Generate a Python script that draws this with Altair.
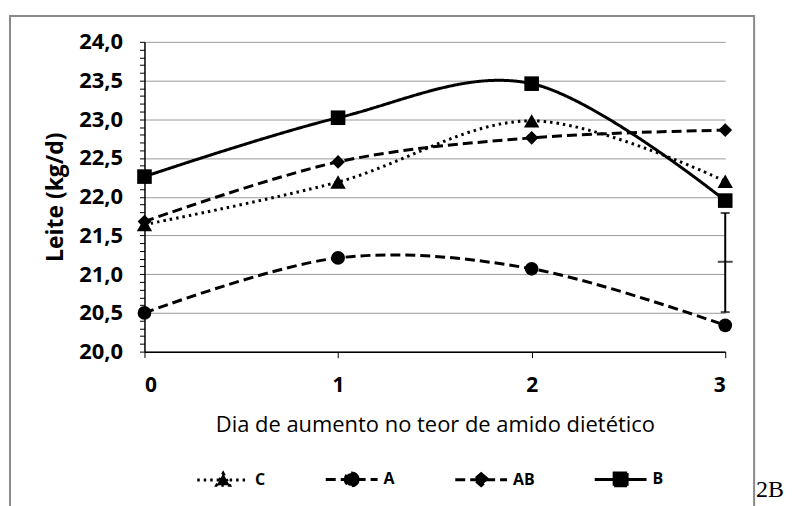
import altair as alt
import pandas as pd

# ---- data ----
days = [0, 1, 2, 3]
series_names = ["C", "A", "AB", "B"]
leite_C = [21.64, 22.19, 22.98, 22.20]
leite_A = [20.50, 21.21, 21.07, 20.34]
leite_AB = [21.68, 22.45, 22.76, 22.86]
leite_B = [22.26, 23.02, 23.46, 21.95]

# error bar drawn at the last day
err_day = [3]
err_center = [21.16]
err_low = [20.51]
err_high = [21.79]

y_minor_step = 0.1
y_ticks = [round(20.0 + y_minor_step * i, 1) for i in range(41)]

x_title = "Dia de aumento no teor de amido dietético"
y_title = "Leite (kg/d)"

marker_shapes = {"C": "triangle-up", "A": "circle", "AB": "diamond", "B": "square"}
marker_sizes = {"C": 240, "A": 190, "AB": 190, "B": 215}

# ---- tables ----
rows = []
for name, vals in zip(series_names, [leite_C, leite_A, leite_AB, leite_B]):
    for d, v in zip(days, vals):
        rows.append({"dia": d, "leite": v, "serie": name})
df = pd.DataFrame(rows)
err_df = pd.DataFrame({"dia": err_day, "mid": err_center, "lo": err_low, "hi": err_high})
one = pd.DataFrame({"k": [0]})

FONT = "Open Sans"
major_test = "abs(datum.value*2 - round(datum.value*2)) < 0.001"

x_scale = alt.Scale(domain=[0, 3], nice=False, zero=False)
y_scale = alt.Scale(domain=[20, 24], nice=False, zero=False)

x_axis = alt.Axis(
    values=days, title=x_title, grid=False, format="d",
    tickSize=6, tickColor="black", domainColor="black", domainWidth=1.5,
    labelFont=FONT, labelFontSize=21, labelFontWeight="bold", labelColor="black",
    labelPadding=17, titleFont=FONT, titleFontSize=22, titleFontWeight="normal",
    titleColor="black", titlePadding=19,
)
y_axis = alt.Axis(
    values=y_ticks, tickCount=len(y_ticks), title=y_title,
    labelExpr=f"{major_test} ? replace(format(datum.value, '.1f'), '.', ',') : ''",
    grid=True, gridColor="#9a9a9a", gridWidth=1,
    gridOpacity={"condition": {"test": major_test, "value": 1}, "value": 0},
    tickSize=5, tickColor="black", domainColor="black", domainWidth=1.5,
    labelFont=FONT, labelFontSize=22, labelFontWeight="bold", labelColor="black",
    labelPadding=17, labelOverlap=False, labelFlush=False, labelBound=False,
    titleFont=FONT, titleFontSize=23, titleFontWeight="bold", titleColor="black",
    titlePadding=11,
)

# legend symbols: a line segment with the series marker in its middle
sym_C = "M-1,0H9.4M4.2,-1.3L5.5,1.1L2.9,1.1Z"
sym_A = "M-1,0H9.4M5.5,0A1.3,1.3,0,1,1,2.9,0A1.3,1.3,0,1,1,5.5,0Z"
sym_AB = "M-1,0H9.4M4.2,-1.2L5.6,0L4.2,1.2L2.8,0Z"
sym_B = "M-1,0H9.4M2.9,-1.3H5.5V1.3H2.9Z"
sym_expr = (
    f"datum.value == 'C' ? '{sym_C}' : datum.value == 'A' ? '{sym_A}' : "
    f"datum.value == 'AB' ? '{sym_AB}' : '{sym_B}'"
)

legend = alt.Legend(
    title=None, orient="none", legendX=50, legendY=431, direction="horizontal",
    columns=4, symbolType={"expr": sym_expr}, symbolSize=100,
    symbolStrokeWidth=3, symbolStrokeColor="black", symbolFillColor="black",
    symbolOpacity=1, labelFont=FONT, labelFontSize=16, labelFontWeight="bold",
    labelColor="black", labelOffset=45, columnPadding=54,
)

base = alt.Chart(df)
X = alt.X("dia:Q", scale=x_scale, axis=x_axis)
Y = alt.Y("leite:Q", scale=y_scale, axis=y_axis)

lines = base.mark_line(interpolate="cardinal", color="black", strokeWidth=3).encode(
    x=X, y=Y,
    strokeDash=alt.StrokeDash(
        "serie:N",
        scale=alt.Scale(domain=series_names, range=[[2.5, 4], [10, 5], [10, 5], [1, 0]]),
        legend=legend,
    ),
)

point_layers = []
for name in series_names:
    point_layers.append(
        base.transform_filter(alt.datum.serie == name)
        .mark_point(filled=True, color="black", opacity=1,
                    shape=marker_shapes[name], size=marker_sizes[name])
        .encode(x=X, y=Y)
    )

err_base = alt.Chart(err_df)
err_rule = err_base.mark_rule(color="black", strokeWidth=2).encode(
    x=alt.X("dia:Q", scale=x_scale), y=alt.Y("lo:Q", scale=y_scale), y2="hi:Q"
)
err_caps_lo = err_base.mark_tick(color="black", thickness=2, size=9, orient="horizontal").encode(
    x=alt.X("dia:Q", scale=x_scale), y=alt.Y("lo:Q", scale=y_scale)
)
err_caps_hi = err_base.mark_tick(color="black", thickness=2, size=9, orient="horizontal").encode(
    x=alt.X("dia:Q", scale=x_scale), y=alt.Y("hi:Q", scale=y_scale)
)
err_mid = err_base.mark_tick(color="black", thickness=2, size=15, orient="horizontal").encode(
    x=alt.X("dia:Q", scale=x_scale), y=alt.Y("mid:Q", scale=y_scale)
)

frame = alt.Chart(one).mark_rect(fillOpacity=0, stroke="#8a8a8a", strokeWidth=2).encode(
    x=alt.value(-135), x2=alt.value(612), y=alt.value(-26), y2=alt.value(480)
)
stray = alt.Chart(one).mark_text(
    font="Liberation Serif", fontSize=24, align="left", baseline="alphabetic", color="black"
).encode(x=alt.value(614), y=alt.value(457), text=alt.value("2B"))

chart = alt.layer(
    frame, lines, *point_layers, err_rule, err_caps_lo, err_caps_hi, err_mid, stray
).properties(
    width=583, height=311,
    autosize=alt.AutoSizeParams(type="none"),
    padding={"left": 137, "top": 33, "right": 60, "bottom": 154},
    background="white",
).configure_view(stroke=None)

chart.save("out.html", embed_options={"renderer": "svg", "actions": False})
